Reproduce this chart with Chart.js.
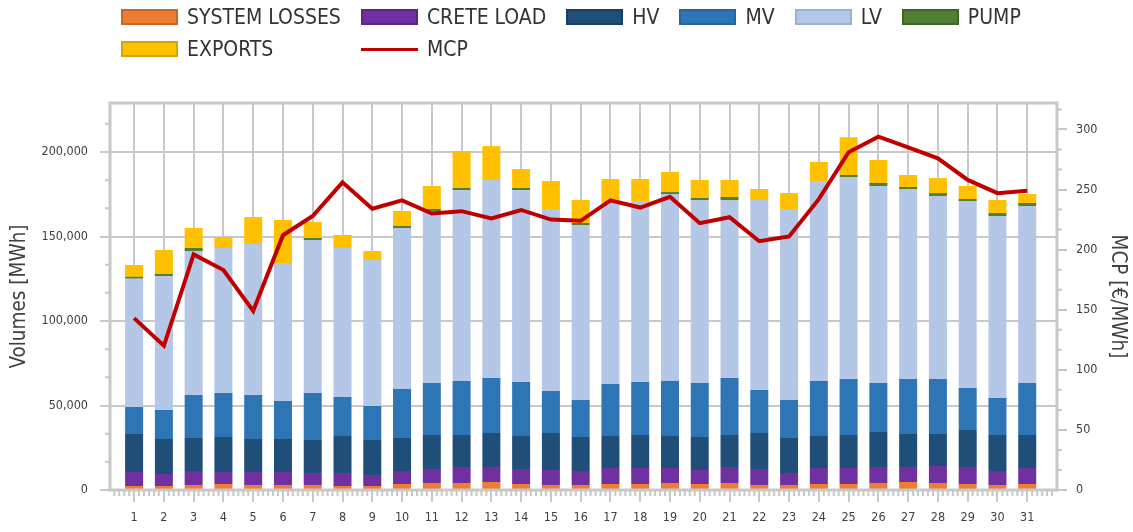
<!DOCTYPE html>
<html><head><meta charset="utf-8">
<script src="https://cdn.jsdelivr.net/npm/chart.js@4.4.1/dist/chart.umd.min.js"></script>
<style>
html,body{margin:0;padding:0;background:#fff;}
#wrap{position:relative;width:1133px;height:532px;overflow:hidden;}
#c{position:absolute;left:0;top:0;}
#legend{position:absolute;left:121px;top:1px;display:grid;grid-template-columns:repeat(6,auto);column-gap:20px;grid-auto-rows:32px;align-items:center;font-family:'DejaVu Sans Condensed','DejaVu Sans',sans-serif;font-stretch:condensed;font-size:21px;color:#333;}
.item{display:flex;align-items:center;white-space:nowrap;}
.sw{width:57px;height:16px;box-sizing:border-box;border:2px solid;margin-right:9px;}
.ln{width:57px;height:3px;margin-right:9px;}
</style></head>
<body>
<div id="wrap"><canvas id="c" width="1133" height="532"></canvas><div id="legend"></div></div>
<script>
const days = [1,2,3,4,5,6,7,8,9,10,11,12,13,14,15,16,17,18,19,20,21,22,23,24,25,26,27,28,29,30,31];
const seriesNames = ['SYSTEM LOSSES','CRETE LOAD','HV','MV','LV','PUMP','EXPORTS'];
const lineName = 'MCP';
const systemLosses = [2370,2370,2960,3550,2960,2960,2960,2370,2370,3550,4140,4140,4730,3550,2960,2960,3550,3550,4140,3550,4140,2960,2960,3550,3550,4140,4730,4140,3550,2960,3550];
const creteLoad = [8280,7100,8280,7100,7690,7690,7100,7690,6510,7690,8280,9470,8880,8880,8880,8280,9470,9470,8880,8280,9470,9470,7100,9470,9470,9470,8880,10060,10060,8280,9470];
const hv = [22480,20710,19530,20710,19530,19530,19530,21890,20710,19530,20120,18930,20120,19530,21890,20120,18930,19530,18930,19530,18930,21300,20710,18930,19530,20710,19530,18930,21890,21300,19530];
const mv = [15980,17160,25440,26030,26030,22480,27810,23080,20120,28990,30770,31950,32540,31950,24850,21890,30770,31360,32540,31950,33730,25440,22480,32540,33140,28990,32540,32540,24850,21890,30770];
const lv = [75920,79260,85190,86100,89390,81640,90510,88170,86400,95240,101790,113000,117130,113600,107720,103550,106480,107100,110600,108290,105330,112430,113050,118300,119520,116590,112420,108320,110650,107660,104690];
const pump = [1180,1200,1800,300,0,0,1200,0,0,1200,1200,1200,0,1200,0,1200,0,0,1200,1200,1800,0,0,0,1200,1800,1200,1700,1200,1800,1800];
const exportsVol = [6920,14200,11800,5900,15900,25500,9500,7700,5300,8900,13600,21900,20100,11200,16500,13600,14800,13000,11900,10600,10000,6500,9400,11300,22300,13600,7100,8900,7700,7700,5300];
const mcp = [143,120,196,183,149,212,228,256,234,241,230,232,226,233,225,224,241,235,244,222,227,207,211,242,281,294,285,276,258,247,249];
const volumeTicks = [0,50000,100000,150000,200000];
const priceTicks = [0,50,100,150,200,250,300];

const barSeries = [systemLosses, creteLoad, hv, mv, lv, pump, exportsVol];
const fills = ['#ED7D31','#7030A0','#1F4E79','#2E75B6','#B4C7E7','#507E32','#FFC000'];
const edges = ['#C8662A','#5A2785','#183E60','#2862A0','#9AB0DA','#3E6628','#D9A300'];
const lineColor = '#C00000';
const FONT = "'DejaVu Sans Condensed','DejaVu Sans',sans-serif";
const GRID = '#c8c8c8';

const datasets = barSeries.map((arr, i) => ({
  type: 'bar',
  label: seriesNames[i],
  data: days.map((d, j) => ({x: d, y: arr[j]})),
  backgroundColor: fills[i],
  borderWidth: 0,
  yAxisID: 'y',
  stack: 'vol',
  barPercentage: 1,
  categoryPercentage: 0.605,
  order: 1
}));
datasets.push({
  type: 'line',
  label: lineName,
  data: days.map((d, j) => ({x: d, y: mcp[j]})),
  borderColor: lineColor,
  backgroundColor: lineColor,
  borderWidth: 4,
  pointRadius: 0,
  tension: 0,
  yAxisID: 'y1',
  order: 0
});

const frameAndMinor = {
  id: 'frameAndMinor',
  afterDraw(chart) {
    const {ctx, chartArea: a, scales} = chart;
    const y = scales.y, y1 = scales.y1, x = scales.x;
    ctx.save();
    ctx.strokeStyle = GRID;
    ctx.lineWidth = 2;
    ctx.beginPath();
    for (let k = 1; k * 50000 / 3 <= y.max; k++) {
      if (k % 3 === 0) continue;
      const p = y.getPixelForValue(k * 50000 / 3);
      ctx.moveTo(a.left - 5, p); ctx.lineTo(a.left, p);
    }
    for (let k = 1; k * 50 / 3 <= y1.max; k++) {
      if (k % 3 === 0) continue;
      const p = y1.getPixelForValue(k * 50 / 3);
      ctx.moveTo(a.right, p); ctx.lineTo(a.right + 5, p);
    }
    for (let k = Math.ceil((x.min - 1) * 6); 1 + k / 6 <= x.max; k++) {
      if (k % 6 === 0) continue;
      const p = x.getPixelForValue(1 + k / 6);
      ctx.moveTo(p, a.bottom); ctx.lineTo(p, a.bottom + 6);
    }
    ctx.stroke();
    ctx.lineWidth = 3;
    ctx.strokeRect(a.left, a.top, a.right - a.left, a.bottom - a.top);
    ctx.restore();
  }
};

const chart = new Chart(document.getElementById('c'), {
  data: {datasets},
  options: {
    responsive: false,
    animation: false,
    devicePixelRatio: 1,
    layout: {padding: {top: 103, left: 0, right: 0, bottom: 0}},
    plugins: {legend: {display: false}, tooltip: {enabled: false}},
    scales: {
      x: {
        type: 'linear', min: 0.19, max: 32.0, offset: false, stacked: true,
        afterBuildTicks: s => { s.ticks = days.map(v => ({value: v})); },
        afterFit: s => { s.height = 42; },
        grid: {color: GRID, lineWidth: 2, tickColor: GRID, tickWidth: 2, tickLength: 12, offset: false},
        border: {display: false},
        ticks: {font: {family: FONT, size: 12.5}, color: '#404040', padding: 8, maxRotation: 0, autoSkip: false, callback: v => String(v)}
      },
      y: {
        position: 'left', min: 0, max: 229000, stacked: true,
        afterBuildTicks: s => { s.ticks = volumeTicks.map(v => ({value: v})); },
        afterFit: s => { s.width = 110; },
        grid: {color: GRID, lineWidth: 2, tickColor: GRID, tickWidth: 2, tickLength: 10},
        border: {display: false},
        ticks: {font: {family: FONT, size: 12.5}, color: '#404040', padding: 12, callback: v => v.toLocaleString('en-US')},
        title: {display: true, text: 'Volumes [MWh]', font: {family: FONT, size: 20.5}, color: '#404040', padding: {top: 7, bottom: 0}}
      },
      y1: {
        position: 'right', min: 0, max: 322,
        afterBuildTicks: s => { s.ticks = priceTicks.map(v => ({value: v})); },
        afterFit: s => { s.width = 76; },
        grid: {drawOnChartArea: false, color: GRID, lineWidth: 2, tickColor: GRID, tickWidth: 2, tickLength: 10},
        border: {display: false},
        ticks: {font: {family: FONT, size: 12.5}, color: '#404040', padding: 9},
        title: {display: true, text: 'MCP [€/MWh]', font: {family: FONT, size: 20.5}, color: '#404040', padding: {top: 3, bottom: 0}}
      }
    }
  },
  plugins: [frameAndMinor]
});

// HTML legend built from the chart's datasets
const leg = document.getElementById('legend');
chart.data.datasets.forEach((ds, i) => {
  const item = document.createElement('div');
  item.className = 'item';
  const mark = document.createElement('span');
  if (ds.type === 'line') {
    mark.className = 'ln';
    mark.style.background = ds.borderColor;
  } else {
    mark.className = 'sw';
    mark.style.background = ds.backgroundColor;
    mark.style.borderColor = edges[i];
  }
  const txt = document.createElement('span');
  txt.textContent = ds.label;
  item.appendChild(mark); item.appendChild(txt);
  leg.appendChild(item);
});
</script>
</body></html>
